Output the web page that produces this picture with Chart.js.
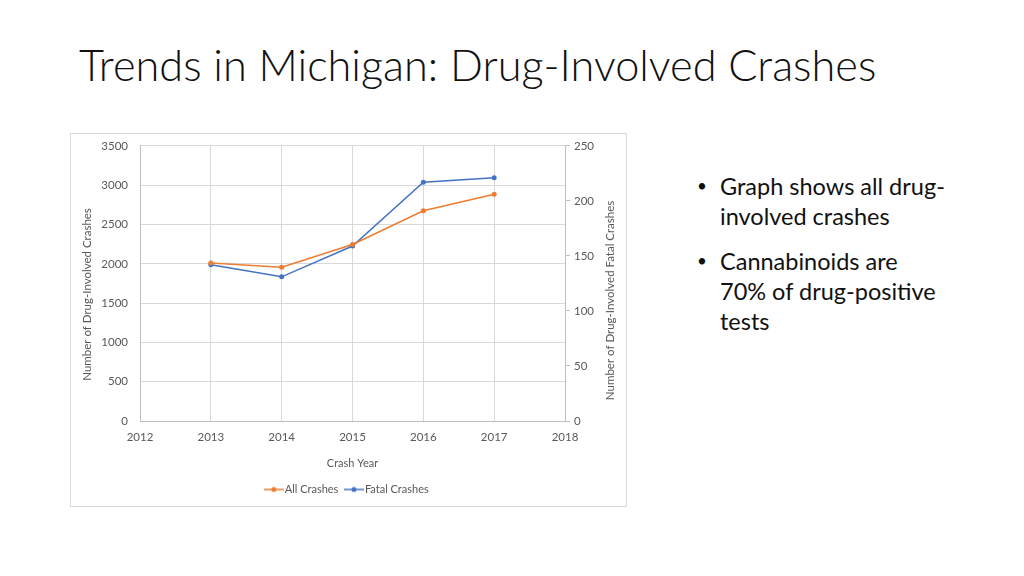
<!DOCTYPE html>
<html>
<head>
<meta charset="utf-8">
<script src="https://cdn.jsdelivr.net/npm/chart.js@4/dist/chart.umd.min.js"></script>
<style>
  html, body { margin: 0; padding: 0; background: #fff; }
  body { width: 1024px; height: 576px; position: relative; overflow: hidden; font-family: Lato, "Open Sans", sans-serif; }
  #title { position: absolute; left: 79px; top: 38px; font-size: 43.3px; font-weight: 300; color: #111; white-space: nowrap; }
  #box { position: absolute; left: 70px; top: 133px; width: 555px; height: 372px; border: 1px solid #d9d9d9; }
  #box canvas { position: absolute; left: 0; top: -7px; }
  #bullets { position: absolute; left: 697px; top: 171px; width: 320px; font-size: 23.5px; color: #111; line-height: 30px; }
  .b { position: relative; padding-left: 23px; margin-bottom: 15px; }
  .b::before { content: "•"; position: absolute; left: 0; top: 0; font-size: 17px; }
</style>
</head>
<body>
<div id="title">Trends in Michigan: Drug-Involved Crashes</div>
<div id="box"><canvas id="c" width="555" height="380"></canvas></div>
<div id="bullets">
  <div class="b">Graph shows all drug-<br>involved crashes</div>
  <div class="b">Cannabinoids are<br>70% of drug-positive<br>tests</div>
</div>
<script>
const years = [2013, 2014, 2015, 2016, 2017];
const allCrashes = [2010, 1955, 2245, 2675, 2885];
const fatalCrashes = [142, 131, 159, 217, 221];
const leftTicks = [0, 500, 1000, 1500, 2000, 2500, 3000, 3500];
const rightTicks = [0, 50, 100, 150, 200, 250];
const xTicks = [2012, 2013, 2014, 2015, 2016, 2017, 2018];
const leftTitle = 'Number of Drug-Involved Crashes';
const rightTitle = 'Number of Drug-Involved Fatal Crashes';

const orange = '#ED7D31';
const blue = '#4472C4';
const txt = '#595959';

function legendIcon(color) {
  const cv = document.createElement('canvas');
  cv.width = 20; cv.height = 8;
  const g = cv.getContext('2d');
  g.strokeStyle = color; g.lineWidth = 1.5;
  g.beginPath(); g.moveTo(0, 4); g.lineTo(20, 4); g.stroke();
  g.fillStyle = color;
  g.beginPath(); g.arc(10, 4, 2.5, 0, Math.PI * 2); g.fill();
  return cv;
}

const axisTitlesPlugin = {
  id: 'axisTitles',
  afterDraw(chart) {
    const g = chart.ctx;
    const yl = chart.scales.y, yr = chart.scales.y2;
    g.save();
    g.font = '11.5px Lato';
    g.fillStyle = txt;
    g.textAlign = 'center';
    g.textBaseline = 'middle';
    g.save();
    g.translate(yl.left + 16, (yl.top + yl.bottom) / 2 + 11);
    g.rotate(-Math.PI / 2);
    g.fillText(leftTitle, 0, 0);
    g.restore();
    g.save();
    g.translate(yr.right - 16, (yr.top + yr.bottom) / 2 + 17);
    g.rotate(-Math.PI / 2);
    g.fillText(rightTitle, 0, 0);
    g.restore();
    g.restore();
  }
};

const ctx = document.getElementById('c').getContext('2d');
new Chart(ctx, {
  type: 'line',
  data: {
    datasets: [
      {
        label: 'All Crashes',
        data: years.map((y, i) => ({ x: y, y: allCrashes[i] })),
        borderColor: orange, backgroundColor: orange,
        borderWidth: 1.5, pointRadius: 2.5, pointBorderWidth: 0,
        yAxisID: 'y', tension: 0
      },
      {
        label: 'Fatal Crashes',
        data: years.map((y, i) => ({ x: y, y: fatalCrashes[i] })),
        borderColor: blue, backgroundColor: blue,
        borderWidth: 1.5, pointRadius: 2.5, pointBorderWidth: 0,
        yAxisID: 'y2', tension: 0
      }
    ]
  },
  plugins: [axisTitlesPlugin],
  options: {
    responsive: false,
    animation: false,
    layout: { padding: { top: 6, left: 0, right: 0, bottom: 2 } },
    plugins: {
      legend: {
        position: 'bottom',
        labels: {
          font: { family: 'Lato', size: 11 },
          color: txt,
          boxWidth: 20,
          padding: 10,
          usePointStyle: true,
          generateLabels: (chart) => chart.data.datasets.map((d, i) => ({
            text: d.label,
            fillStyle: d.borderColor,
            strokeStyle: d.borderColor,
            fontColor: txt,
            pointStyle: legendIcon(d.borderColor),
            datasetIndex: i,
            hidden: false,
            lineWidth: 0
          }))
        }
      },
      tooltip: { enabled: false }
    },
    scales: {
      x: {
        type: 'linear', min: 2012, max: 2018,
        afterBuildTicks: (s) => { s.ticks = xTicks.map(v => ({ value: v })); },
        ticks: { font: { family: 'Lato', size: 11.5 }, color: txt, padding: 9, callback: v => String(v) },
        grid: { color: '#d9d9d9', drawTicks: false },
        border: { color: '#bfbfbf' },
        title: { display: true, text: 'Crash Year', font: { family: 'Lato', size: 11 }, color: txt, padding: { top: 4, bottom: 4 } }
      },
      y: {
        position: 'left', min: 0, max: 3500,
        afterBuildTicks: (s) => { s.ticks = leftTicks.map(v => ({ value: v })); },
        ticks: { font: { family: 'Lato', size: 11.5 }, color: txt, padding: 12, callback: v => String(v) },
        grid: { color: '#d9d9d9', drawTicks: false },
        border: { color: '#bfbfbf' },
        title: { display: false },
        afterFit: (s) => { s.width = 69; }
      },
      y2: {
        position: 'right', min: 0, max: 250,
        afterBuildTicks: (s) => { s.ticks = rightTicks.map(v => ({ value: v })); },
        ticks: { font: { family: 'Lato', size: 11.5 }, color: txt, padding: 4, callback: v => String(v) },
        grid: { drawOnChartArea: false, color: '#bfbfbf', tickLength: 5 },
        border: { color: '#bfbfbf' },
        title: { display: false },
        afterFit: (s) => { s.width = 61; }
      }
    }
  }
});
</script>
</body>
</html>
